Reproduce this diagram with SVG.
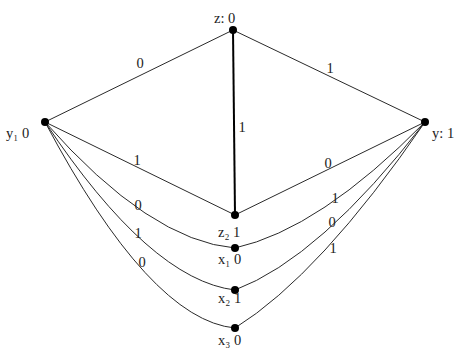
<svg xmlns="http://www.w3.org/2000/svg" width="460" height="351" viewBox="0 0 460 351">
<style>
.e{fill:none;stroke:#2a2a2a;stroke-width:1}
.v{fill:none;stroke:#000;stroke-width:2}
.n{fill:#000}
.t{font-family:"Liberation Serif",serif;font-size:14.5px;fill:#222}
.l{font-family:"Liberation Serif",serif;font-size:14.5px;fill:#222;text-anchor:middle}
</style>
<rect width="460" height="351" fill="#fff"/>
<g id="connectors">
<line class="e" x1="45" y1="122" x2="233" y2="30"/>
<line class="e" x1="233" y1="30" x2="425" y2="122"/>
<line class="v" x1="233" y1="30" x2="235" y2="215"/>
<line class="e" x1="45" y1="122" x2="235" y2="215"/>
<line class="e" x1="425" y1="122" x2="235" y2="215"/>
<path class="e" d="M45 122 Q150 241 235 248"/>
<path class="e" d="M45 122 Q150 280 235 290"/>
<path class="e" d="M45 122 Q150 320 235 328"/>
<path class="e" d="M425 122 Q320 229 235 248"/>
<path class="e" d="M425 122 Q320 258 235 290"/>
<path class="e" d="M425 122 Q320 275 235 328"/>
<text class="l" x="140" y="68">0</text>
<text class="l" x="330" y="73">1</text>
<text class="l" x="242" y="132">1</text>
<text class="l" x="137" y="165">1</text>
<text class="l" x="328" y="168">0</text>
<text class="l" x="138" y="210">0</text>
<text class="l" x="138" y="238">1</text>
<text class="l" x="142" y="267">0</text>
<text class="l" x="335" y="203">1</text>
<text class="l" x="332" y="227">0</text>
<text class="l" x="333" y="253">1</text>
</g>
<g id="z"><circle class="n" cx="233" cy="30" r="4"/><text class="t" x="214" y="23">z: 0</text></g>
<g id="y1"><circle class="n" cx="45" cy="122" r="4"/><text class="t" x="6" y="138">y₁ 0</text></g>
<g id="y2"><circle class="n" cx="425" cy="122" r="4"/><text class="t" x="432" y="138">y: 1</text></g>
<g id="z2"><circle class="n" cx="235" cy="215" r="4"/><text class="t" x="218" y="237">z₂ 1</text></g>
<g id="x1"><circle class="n" cx="235" cy="248" r="4"/><text class="t" x="218" y="264">x₁ 0</text></g>
<g id="x2"><circle class="n" cx="235" cy="290" r="4"/><text class="t" x="218" y="303">x₂ 1</text></g>
<g id="x3"><circle class="n" cx="235" cy="328" r="4"/><text class="t" x="218" y="345">x₃ 0</text></g>
</svg>
